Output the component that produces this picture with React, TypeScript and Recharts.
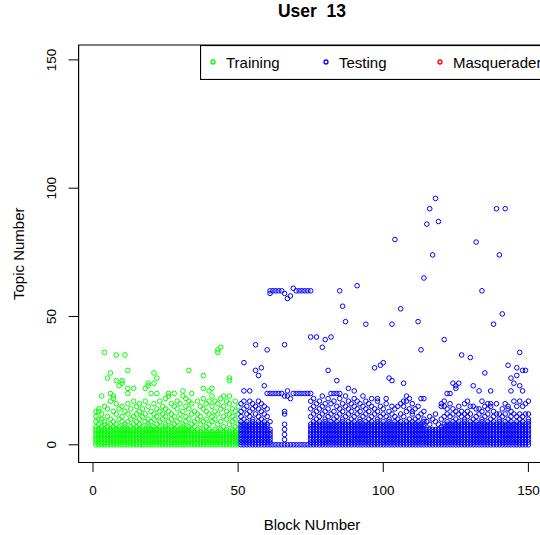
import React from 'react';
import { ScatterChart, Scatter, XAxis, YAxis, ReferenceArea, Legend } from 'recharts';

// Topic numbers observed in each block. "a-b" lists every topic from a to b.
// Training: blocks 1-50.
const trainingBlocks: string[] = [
  '0-7,9,11,13', '0-6,8,10,13,14', '0-7,10,12,19', '0-6,8,9,15,36', '0-7,11,14,26',
  '0-6,8,10,17,20,28', '0-7,9,13,18,19', '0-6,8,12,16,25,35', '0-7,10,14,23', '0-6,9,11,15,24,25',
  '0-7,8,13,35', '0-6,9,12,16,20,22,29', '0-7,10,14', '0-6,8,11,17,22', '0-7,9,12,15',
  '0-6,8,10,13,16', '0-7,11,14', '0-6,9,12,17,22', '0-7,8,10,15,23,24', '0-6,9,13,20',
  '0-7,10,12,16,24,28', '0-6,8,11,14,20,26', '0-7,9,13,17', '0-6,10,12,15', '0-7,8,11,14,18',
  '0-6,9,13,19,20', '0-7,10,12,16', '0-6,8,11,15,20', '0-7,9,14,17', '0-6,10,12,16',
  '0-7,8,13,19,21', '0-6,9,11,15,18', '0-7,10,14,17,29', '0-6,8,12,16,20', '0-5,7,9,13',
  '0-6,10,12,17', '0-5,8,11,15', '0-6,9,14,18,22,27', '0-5,7,10,13,16', '0-6,8,12,17,21',
  '0-5,9,11,15,19,22', '0-6,10,13,17', '0-5,8,12,16,36,37', '0-6,9,14,18,38', '0-5,7,11,15,19',
  '0-6,10,13,17', '0-5,8,12,16,19,25,26', '0-6,9,11,14', '0-5,7,10,13,17', '0-6,8,12,15',
];

// Testing: blocks 51-150.
const testingBlocks: string[] = [
  '0-9,11,13,16', '0-8,10,14,17,21,32', '0-9,12,15', '0-8,11,13,17,21', '0-9,10,14,16',
  '0-8,12,15,29,39', '0-9,11,14,17,27', '0-8,10,13,16,30', '0-9,12,15,23', '0-8,11,14,20,37',
  '0-6,9,20,59,60', '0,20,60', '0,20,60', '0,20,60', '0,20,60',
  '0,2,4,6,8,12,13,19,39,59', '0,19,21,57', '0,18,58', '0,20,61', '0,20,60',
  '0,20,60', '0,20,60', '0,20,60', '0,20,60', '0-8,11,14,17,20,42,60',
  '0-9,12,15,18', '0-8,10,13,16,42', '0-9,11,14,17', '0-8,12,15,19,38', '0-9,10,13,16,41',
  '0-8,11,14,18,29', '0-9,12,16,20,42', '0-8,10,13,17,20', '0-9,11,15,20,25', '0-8,12,14,18,20,60',
  '0-9,10,13,16,54', '0-8,11,15,19,48', '0-9,12,14,17,22', '0-8,10,13,16', '0-9,11,15,18,21',
  '0-8,12,14,17,62', '0-9,10,13,16', '0-8,11,15,19', '0-9,12,14,17,47', '0-8,10,13,16',
  '0-9,11,15,18', '0-8,12,14,30', '0-9,10,13,17,18', '0-8,11,15,31', '0-9,12,14,32',
  '0-8,11,16,18', '0-9,10,13,26', '0-8,12,15,25,47', '0-9,11,14,80', '0-8,10,15',
  '0-9,12,16,53', '0-8,11,15,17,24', '0-9,13,17,19', '0-8,10,14,18', '0-9,12,13,16',
  '0-8,10,14', '0-9,11,15,48', '0-8,12,18,37', '0-9,10,13,18,65', '0-6,9,86',
  '0-6,8,11,92', '0-6,10,74', '0-6,9,12,96', '0-6,8,87', '0-7,10,15,16',
  '0-8,11,15,17,41', '0-9,12,14,20', '0-8,11,16,20', '0-9,12,14,24', '0-8,10,13,22,23',
  '0-9,12,15,24', '0-8,11,13,35', '0-9,10,12,16', '0-8,11,13,17', '0-9,12,15,34',
  '0-8,10,15,23', '0-9,11,14,79', '0-8,12,14,21', '0-9,10,13,17,60', '0-8,11,15,28',
  '0-9,12,14,16', '0-8,10,15,16,21', '0-9,11,13,47', '0-8,12,16,92', '0-9,10,12,74',
  '0-8,11,14,51', '0-9,12,16,92', '0-8,10,14,15,31', '0-9,11,13,21,26', '0-8,12,17,24',
  '0-9,11,15,27,30', '0-8,10,12,17,23,36', '0-9,11,15,21,29', '0-8,12,16,29', '0-9,10,12,17',
];

const FIRST_TRAINING_BLOCK = 1;
const FIRST_TESTING_BLOCK = 51;
const axisTicks = [0, 50, 100, 150];
const legendLabels = ['Training', 'Testing', 'Masquerader'];
const seriesColors = ['#00FF00', '#0000FF', '#FF0000'];

const X_DOMAIN: [number, number] = [-4.96, 155.96];
const Y_DOMAIN: [number, number] = [-6.9, 155.8];

const FONT = '"Liberation Sans", Arial, Helvetica, sans-serif';

type Pt = { block: number; topic: number };

function expandTopics(spec: string): number[] {
  const out: number[] = [];
  spec.split(',').forEach((part) => {
    const bounds = part.split('-').map(Number);
    if (bounds.length === 1) {
      out.push(bounds[0]);
    } else {
      for (let t = bounds[0]; t <= bounds[1]; t++) out.push(t);
    }
  });
  return out;
}

function toPoints(blocks: string[], first: number): Pt[] {
  const pts: Pt[] = [];
  blocks.forEach((spec, i) => {
    expandTopics(spec).forEach((topic) => pts.push({ block: first + i, topic }));
  });
  return pts;
}

const trainingData = toPoints(trainingBlocks, FIRST_TRAINING_BLOCK);
const testingData = toPoints(testingBlocks, FIRST_TESTING_BLOCK);

const ring = (color: string) => (props: any) => (
  <circle cx={props.cx} cy={props.cy} r={2.3} fill="none" stroke={color} strokeWidth={1} />
);

const XTick = (props: any) => (
  <text x={props.x} y={494.8} textAnchor="middle" fontFamily={FONT} fontSize={13.5} fill="#000">
    {props.payload.value}
  </text>
);

const YTick = (props: any) => (
  <text
    x={56.4}
    y={props.y}
    textAnchor="middle"
    transform={`rotate(-90, 56.4, ${props.y})`}
    fontFamily={FONT}
    fontSize={13.5}
    fill="#000"
  >
    {props.payload.value}
  </text>
);

const XTitle = () => (
  <text x={312} y={529.5} textAnchor="middle" fontFamily={FONT} fontSize={15} fill="#000">
    Block NUmber
  </text>
);

const YTitle = () => (
  <text
    x={23.5}
    y={253.75}
    textAnchor="middle"
    transform="rotate(-90, 23.5, 253.75)"
    fontFamily={FONT}
    fontSize={15}
    fill="#000"
  >
    Topic Number
  </text>
);

const legendSymbolX = [13, 126, 240];

const LegendBox = () => (
  <svg width={420} height={35} style={{ display: 'block' }}>
    <rect x={0.5} y={0.5} width={418} height={34} fill="#fff" stroke="#000" strokeWidth={1.2} />
    {legendLabels.map((label, i) => (
      <g key={label}>
        <circle cx={legendSymbolX[i]} cy={17} r={2} fill="none" stroke={seriesColors[i]} strokeWidth={1.3} />
        <text x={legendSymbolX[i] + 13} y={22.6} fontFamily={FONT} fontSize={15} fill="#000">
          {label}
        </text>
      </g>
    ))}
  </svg>
);

export default function App() {
  return (
    <div
      style={{
        position: 'fixed',
        left: 0,
        top: 0,
        width: 540,
        height: 535,
        overflow: 'hidden',
        background: '#fff',
      }}
    >
      <ScatterChart
        width={600}
        height={535}
        margin={{ top: 45, right: 54.3, bottom: 0, left: 0 }}
      >
        <XAxis
          type="number"
          dataKey="block"
          domain={X_DOMAIN}
          ticks={axisTicks}
          interval={0}
          allowDataOverflow
          axisLine={false}
          tickLine={{ stroke: '#000', strokeWidth: 1 }}
          tickSize={9.5}
          tick={<XTick />}
          height={72.5}
          label={<XTitle />}
        />
        <YAxis
          type="number"
          dataKey="topic"
          domain={Y_DOMAIN}
          ticks={axisTicks}
          interval={0}
          allowDataOverflow
          axisLine={false}
          tickLine={{ stroke: '#000', strokeWidth: 1 }}
          tickSize={10}
          tick={<YTick />}
          width={78.6}
          label={<YTitle />}
        />
        <Scatter
          name="Training"
          data={trainingData}
          shape={ring(seriesColors[0])}
          isAnimationActive={false}
        />
        <Scatter
          name="Testing"
          data={testingData}
          shape={ring(seriesColors[1])}
          isAnimationActive={false}
        />
        <ReferenceArea
          x1={X_DOMAIN[0]}
          x2={X_DOMAIN[1]}
          y1={Y_DOMAIN[0]}
          y2={Y_DOMAIN[1]}
          fill="none"
          stroke="#000"
          strokeWidth={1.2}
          ifOverflow="visible"
        />
        <Legend
          layout="horizontal"
          verticalAlign="middle"
          align="center"
          wrapperStyle={{ position: 'absolute', left: 199.5, top: 45, width: 420, height: 35, margin: 0, padding: 0 }}
          content={() => <LegendBox />}
        />
      </ScatterChart>
      <svg
        width={540}
        height={30}
        style={{ position: 'absolute', left: 0, top: 0, pointerEvents: 'none' }}
      >
        <text
          x={312}
          y={17}
          textAnchor="middle"
          fontFamily={FONT}
          fontSize={17.5}
          fontWeight="bold"
          fill="#000"
          style={{ whiteSpace: 'pre' }}
        >
          {'User  13'}
        </text>
      </svg>
    </div>
  );
}
